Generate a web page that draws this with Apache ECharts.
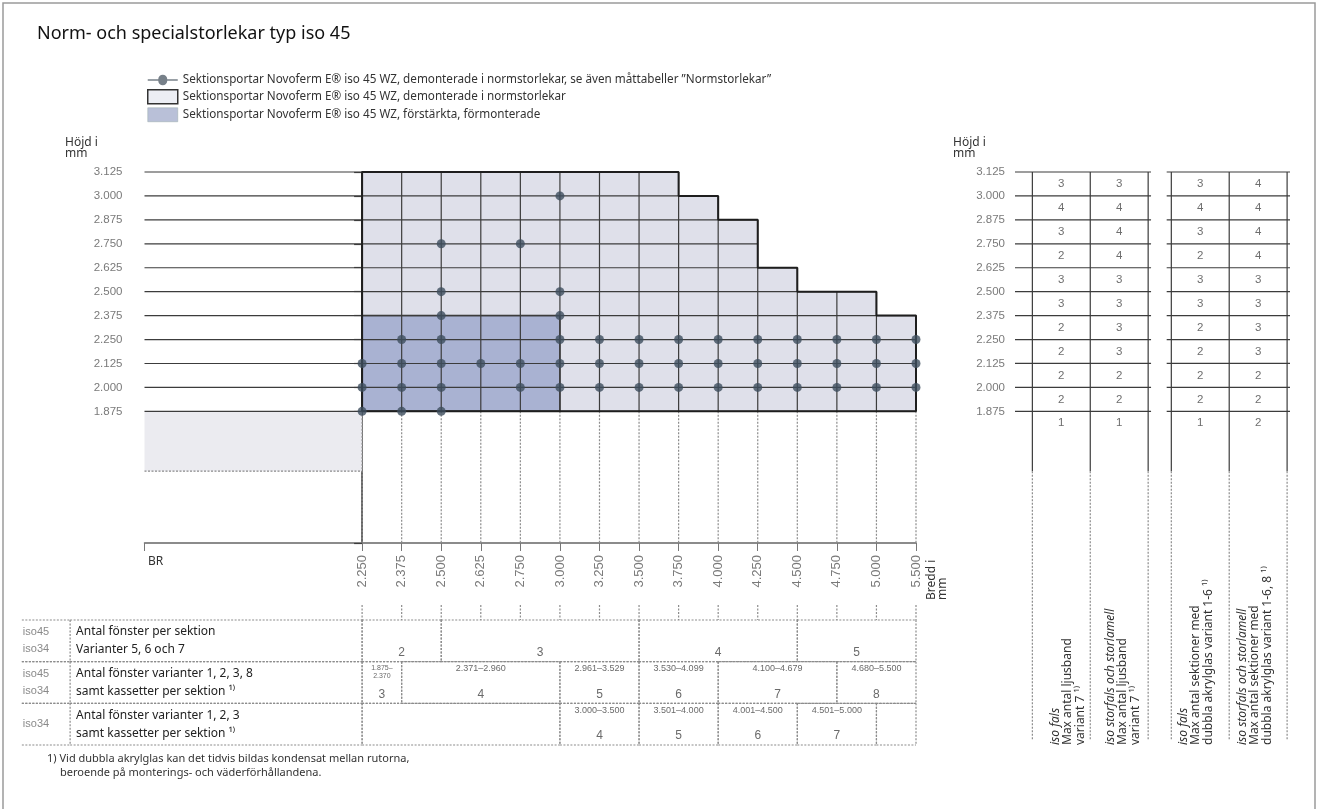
<!DOCTYPE html>
<html>
<head>
<meta charset="utf-8">
<script src="https://cdn.jsdelivr.net/npm/echarts@6/dist/echarts.min.js"></script>
<style>
  html, body { margin: 0; padding: 0; background: #fff; }
  #chart { width: 1318px; height: 809px; }
</style>
</head>
<body>
<div id="chart"></div>
<script>
// --- data ---
const widths = ['2.250', '2.375', '2.500', '2.625', '2.750', '3.000', '3.250', '3.500',
  '3.750', '4.000', '4.250', '4.500', '4.750', '5.000', '5.500'];
const heights = [1.875, 2.000, 2.125, 2.250, 2.375, 2.500, 2.625, 2.750, 2.875, 3.000, 3.125];
// max height for each width step (widths[i] .. widths[i+1])
const columnTops = [3.125, 3.125, 3.125, 3.125, 3.125, 3.125, 3.125, 3.125,
  3.000, 2.875, 2.625, 2.500, 2.500, 2.375];
// förstärkta, förmonterade block
const reinforcedWidth = [0, 5];
const reinforcedHeight = [1.875, 2.375];
// normstorlekar, heights per width
const normSizes = [
  [2.125, 2.000, 1.875],
  [2.250, 2.125, 2.000, 1.875],
  [2.750, 2.500, 2.375, 2.250, 2.125, 2.000, 1.875],
  [2.125],
  [2.750, 2.125, 2.000],
  [3.000, 2.500, 2.375, 2.250, 2.125, 2.000],
  [2.250, 2.125, 2.000],
  [2.250, 2.125, 2.000],
  [2.250, 2.125, 2.000],
  [2.250, 2.125, 2.000],
  [2.250, 2.125, 2.000],
  [2.250, 2.125, 2.000],
  [2.250, 2.125, 2.000],
  [2.250, 2.125, 2.000],
  [2.250, 2.125, 2.000]
];

// right tables, rows from 3.125 down to 1.875
const ljusbandFals = [3, 4, 3, 2, 3, 3, 2, 2, 2, 2, 1];
const ljusbandStorfals = [3, 4, 4, 4, 3, 3, 3, 3, 2, 2, 1];
const akrylFals = [3, 4, 3, 2, 3, 3, 2, 2, 2, 2, 1];
const akrylStorfals = [4, 4, 4, 4, 3, 3, 3, 3, 2, 2, 2];

// bottom table (bounds are width indexes)
const rowTags = ['iso45\niso34', 'iso45\niso34', 'iso34'];
const rowTitles = [
  'Antal fönster per sektion\nVarianter 5, 6 och 7',
  'Antal fönster varianter 1, 2, 3, 8\nsamt kassetter per sektion ¹⁾',
  'Antal fönster varianter 1, 2, 3\nsamt kassetter per sektion ¹⁾'
];
const row1Bounds = [0, 2, 7, 11, 14];
const row1Counts = ['2', '3', '4', '5'];
const row2Bounds = [0, 1, 5, 7, 9, 12, 14];
const row2Ranges = ['1.875–\n2.370', '2.371–2.960', '2.961–3.529', '3.530–4.099', '4.100–4.679', '4.680–5.500'];
const row2Counts = ['3', '4', '5', '6', '7', '8'];
const row3Bounds = [0, 5, 7, 9, 11, 13, 14];
const row3Ranges = ['', '3.000–3.500', '3.501–4.000', '4.001–4.500', '4.501–5.000', ''];
const row3Counts = ['', '4', '5', '6', '7', ''];

// captions under the right tables
const captionTypes = ['iso fals', 'iso storfals och storlamell', 'iso fals', 'iso storfals och storlamell'];
const captionLines = [
  ['Max antal ljusband', 'variant 7 ¹⁾'],
  ['Max antal ljusband', 'variant 7 ¹⁾'],
  ['Max antal sektioner med', 'dubbla akrylglas variant 1-6 ¹⁾'],
  ['Max antal sektioner med', 'dubbla akrylglas variant 1-6, 8 ¹⁾']
];

const legendNames = [
  'Sektionsportar Novoferm E® iso 45 WZ, demonterade i normstorlekar, se även måttabeller ”Normstorlekar”',
  'Sektionsportar Novoferm E® iso 45 WZ, demonterade i normstorlekar',
  'Sektionsportar Novoferm E® iso 45 WZ, förstärkta, förmonterade'
];

// --- layout / style ---
const FONT = '"Noto Sans", "DejaVu Sans", sans-serif';
const NUM_FONT = '"Liberation Sans", sans-serif';
const LIGHT = '#dfe0ea';
const DARK = '#a9b2d2';
const Y_MIN = 1.1875;
const BR_LINE = 1.5625;
const TAG_X = [-8.6, -7.38];
const tableLineX = [0, 1, 2, 2.4, 3.4, 4.4];
const tableColX = [0.5, 1.5, 2.9, 3.9];
const captionX = [1049, 1104, 1177, 1236];

const chart = echarts.init(document.getElementById('chart'));

const bottom = heights[0];
const topAt = i => Math.max(columnTops[i - 1] || 0, columnTops[i] || 0);
const rightEdge = h => {
  let r = 0;
  columnTops.forEach((t, i) => { if (t >= h) r = i + 1; });
  return r;
};

// outline of the light region
const outline = [[0, bottom], [0, columnTops[0]]];
columnTops.forEach((t, i) => { outline.push([i, t]); outline.push([i + 1, t]); });
outline.push([columnTops.length, bottom]);
outline.push([0, bottom]);

const dots = [];
normSizes.forEach((hs, i) => hs.forEach(h => dots.push([i, h])));

// bottom table cells
const cells = [];
rowTags.forEach((tag, r) => {
  cells.push({ kind: 'tag', x0: TAG_X[0], x1: TAG_X[1], row: r, text: tag });
  cells.push({ kind: 'title', x0: TAG_X[1], x1: 0, row: r, text: rowTitles[r] });
});
row1Counts.forEach((c, k) => cells.push({ kind: 'count', x0: row1Bounds[k], x1: row1Bounds[k + 1], row: 0, text: '', count: c }));
row2Counts.forEach((c, k) => cells.push({ kind: 'count', x0: row2Bounds[k], x1: row2Bounds[k + 1], row: 1, text: row2Ranges[k], count: c }));
row3Counts.forEach((c, k) => cells.push({ kind: 'count', x0: row3Bounds[k], x1: row3Bounds[k + 1], row: 2, text: row3Ranges[k], count: c }));

// right table numbers
const tableNums = [];
[ljusbandFals, ljusbandStorfals, akrylFals, akrylStorfals].forEach((col, c) => {
  col.forEach((v, k) => tableNums.push([tableColX[c], heights[heights.length - 1 - k] - 0.0625, v]));
});

const lineDark = { stroke: '#3c3c3c', lineWidth: 1.2 };
const lineDash = { stroke: '#8c8c8c', lineWidth: 1.2, lineDash: [2, 1.5] };

const legendPath = 'path://M0,6.3H10.5A4.5,4.5,0,0,1,19.5,6.3H30V7.7H19.5A4.5,4.5,0,0,1,10.5,7.7H0Z';

const captionRich = {
  i: { fontStyle: 'italic', fontFamily: FONT, fontSize: 12, lineHeight: 12.5, fill: '#333' },
  n: { fontFamily: FONT, fontSize: 12, lineHeight: 12.5, fill: '#333' }
};
const captions = captionTypes.map((t, k) => ({
  type: 'text', x: captionX[k], y: 745, rotation: Math.PI / 2, silent: true,
  style: {
    text: '{i|' + t + '}\n' + captionLines[k].map(s => '{n|' + s + '}').join('\n'),
    align: 'left', verticalAlign: 'top', rich: captionRich
  }
}));

const option = {
  animation: false,
  title: {
    text: 'Norm- och specialstorlekar typ iso 45',
    left: 32, top: 20,
    textStyle: { fontFamily: FONT, fontSize: 18, fontWeight: 'normal', color: '#111' }
  },
  legend: {
    orient: 'vertical', left: 142, top: 69,
    itemWidth: 30, itemHeight: 14, itemGap: 3,
    selectedMode: false,
    textStyle: { fontFamily: FONT, fontSize: 11.7, color: '#333' },
    data: [
      { name: legendNames[0], icon: legendPath, itemStyle: { color: '#55606c' } },
      { name: legendNames[1], icon: 'rect', itemStyle: { color: '#eceef4', borderColor: '#333', borderWidth: 1.5 } },
      { name: legendNames[2], icon: 'rect', itemStyle: { color: '#b9c0d8', borderColor: '#9aa', borderWidth: 0.5 } }
    ]
  },
  grid: [
    { left: 144.5, right: 402, top: 172, bottom: 266 },
    { left: 144.5, right: 402, top: 620, bottom: 64 },
    { left: 1015, right: 28, top: 172, bottom: 62.6 }
  ],
  xAxis: [
    {
      type: 'value', gridIndex: 0, min: -5.5, max: 14,
      axisLine: { show: true, lineStyle: { color: '#666', width: 1.5 } },
      axisTick: { show: true, length: 8, customValues: [-5.5].concat(widths.map((w, i) => i)), lineStyle: { color: '#777' } },
      axisLabel: {
        customValues: widths.map((w, i) => i), formatter: v => widths[Math.round(v)] || '',
        rotate: 90, margin: 12, fontSize: 13, fontFamily: NUM_FONT, color: '#7a7a7a'
      },
      splitLine: { show: false }
    },
    { type: 'value', gridIndex: 1, min: -5.5, max: 14, show: false },
    { type: 'value', gridIndex: 2, min: -0.3, max: 4.45, show: false }
  ],
  yAxis: [
    {
      type: 'value', gridIndex: 0, min: Y_MIN, max: 3.125,
      axisLine: { show: true, lineStyle: { color: '#333', width: 1.5 } },
      axisTick: { show: true, length: 8, customValues: heights.concat([Y_MIN]), lineStyle: { color: '#3c3c3c', width: 1.2 } },
      axisLabel: {
        customValues: heights, formatter: v => v.toFixed(3),
        margin: 22, fontSize: 11.5, fontFamily: NUM_FONT, color: '#7a7a7a'
      },
      splitLine: { show: false }
    },
    { type: 'value', gridIndex: 1, min: 0, max: 3, inverse: true, show: false },
    {
      type: 'value', gridIndex: 2, min: 0.125, max: 3.125,
      axisLine: { show: false }, axisTick: { show: false },
      axisLabel: {
        customValues: heights, formatter: v => v.toFixed(3),
        margin: 10, fontSize: 11.5, fontFamily: NUM_FONT, color: '#7a7a7a'
      },
      splitLine: { show: false }
    }
  ],
  series: [
    // light region
    {
      type: 'custom', name: legendNames[1], xAxisIndex: 0, yAxisIndex: 0, z: 1,
      itemStyle: { color: LIGHT },
      data: columnTops.map((t, i) => [i, t]),
      renderItem: (params, api) => {
        const a = api.coord([api.value(0), bottom]);
        const b = api.coord([api.value(0) + 1, api.value(1)]);
        return { type: 'rect', shape: { x: a[0], y: b[1], width: b[0] - a[0], height: a[1] - b[1] }, style: { fill: LIGHT } };
      }
    },
    // reinforced region
    {
      type: 'custom', name: legendNames[2], xAxisIndex: 0, yAxisIndex: 0, z: 2,
      itemStyle: { color: DARK },
      data: [[reinforcedWidth[0], reinforcedWidth[1], reinforcedHeight[0], reinforcedHeight[1]]],
      renderItem: (params, api) => {
        const a = api.coord([api.value(0), api.value(2)]);
        const b = api.coord([api.value(1), api.value(3)]);
        return { type: 'rect', shape: { x: a[0], y: b[1], width: b[0] - a[0], height: a[1] - b[1] },
          style: { fill: DARK, stroke: '#333', lineWidth: 1.5 } };
      }
    },
    // BR hatched block
    {
      type: 'custom', xAxisIndex: 0, yAxisIndex: 0, z: 1, silent: true,
      data: [[-5.5, 0, BR_LINE, bottom]],
      renderItem: (params, api) => {
        const a = api.coord([api.value(0), api.value(2)]);
        const b = api.coord([api.value(1), api.value(3)]);
        return { type: 'group', children: [
          { type: 'rect', shape: { x: a[0], y: b[1], width: b[0] - a[0], height: a[1] - b[1] }, style: { fill: '#ebebf0' } },
          { type: 'line', shape: { x1: a[0], y1: a[1], x2: b[0], y2: a[1] }, style: lineDash }
        ] };
      }
    },
    // vertical width lines
    {
      type: 'custom', xAxisIndex: 0, yAxisIndex: 0, z: 3, silent: true,
      data: widths.map((w, i) => [i, topAt(i)]),
      renderItem: (params, api) => {
        const x = api.value(0);
        const pTop = api.coord([x, api.value(1)]);
        const pMid = api.coord([x, bottom]);
        const pBot = api.coord([x, Y_MIN]);
        return { type: 'group', children: [
          { type: 'line', shape: { x1: pTop[0], y1: pTop[1], x2: pMid[0], y2: pMid[1] }, style: lineDark },
          { type: 'line', shape: { x1: pMid[0], y1: pMid[1], x2: pBot[0], y2: pBot[1] }, style: lineDash }
        ] };
      }
    },
    // horizontal height lines
    {
      type: 'custom', xAxisIndex: 0, yAxisIndex: 0, z: 3, silent: true,
      data: heights.map(h => [h, rightEdge(h)]),
      renderItem: (params, api) => {
        const a = api.coord([-5.5, api.value(0)]);
        const b = api.coord([api.value(1), api.value(0)]);
        return { type: 'line', shape: { x1: a[0], y1: a[1], x2: b[0], y2: b[1] }, style: lineDark };
      }
    },
    // outline
    {
      type: 'line', xAxisIndex: 0, yAxisIndex: 0, z: 4, silent: true,
      data: outline, symbol: 'none',
      lineStyle: { color: '#1e1e1e', width: 2 }
    },
    // normstorlekar
    {
      type: 'scatter', name: legendNames[0], xAxisIndex: 0, yAxisIndex: 0, z: 5,
      data: dots, symbolSize: 9,
      itemStyle: { color: '#3d4e5e' }
    },
    // bottom table
    {
      type: 'custom', xAxisIndex: 1, yAxisIndex: 1, z: 3, silent: true, clip: false,
      data: cells.map((c, i) => [i]),
      renderItem: (params, api) => {
        const c = cells[params.dataIndex];
        const a = api.coord([c.x0, c.row]);
        const b = api.coord([c.x1, c.row + 1]);
        const cx = (a[0] + b[0]) / 2;
        const ch = [
          { type: 'line', shape: { x1: a[0], y1: a[1], x2: b[0], y2: a[1] }, style: lineDash },
          { type: 'line', shape: { x1: a[0], y1: b[1], x2: b[0], y2: b[1] }, style: lineDash }
        ];
        if (c.kind !== 'tag') {
          ch.push({ type: 'line', shape: { x1: a[0], y1: a[1], x2: a[0], y2: b[1] }, style: lineDash });
          ch.push({ type: 'line', shape: { x1: b[0], y1: a[1], x2: b[0], y2: b[1] }, style: lineDash });
        }
        if (c.kind === 'tag') {
          ch.push({ type: 'text', style: { text: c.text, x: a[0] + 1, y: (a[1] + b[1]) / 2, align: 'left', verticalAlign: 'middle',
            font: '11px ' + NUM_FONT, lineHeight: 17, fill: '#8a8a8a' } });
        } else if (c.kind === 'title') {
          ch.push({ type: 'text', style: { text: c.text, x: a[0] + 6, y: (a[1] + b[1]) / 2, align: 'left', verticalAlign: 'middle',
            font: '12px ' + FONT, lineHeight: 18, fill: '#222' } });
        } else {
          if (c.text) {
            const small = c.text.indexOf('\n') >= 0;
            ch.push({ type: 'text', style: { text: c.text, x: cx, y: a[1] + 2, align: 'center', verticalAlign: 'top',
              font: (small ? '7px ' : '9px ') + NUM_FONT, lineHeight: small ? 8 : 10, fill: '#6a6a6a' } });
          }
          if (c.count) {
            ch.push({ type: 'text', style: { text: c.count, x: cx, y: b[1] - 9, align: 'center', verticalAlign: 'middle',
              font: '12px ' + NUM_FONT, fill: '#6a6a6a' } });
          }
        }
        return { type: 'group', children: ch };
      }
    },
    // ticks above the bottom table
    {
      type: 'custom', xAxisIndex: 1, yAxisIndex: 1, z: 3, silent: true, clip: false,
      data: widths.map((w, i) => [i]),
      renderItem: (params, api) => {
        const a = api.coord([api.value(0), -0.36]);
        const b = api.coord([api.value(0), 0]);
        return { type: 'line', shape: { x1: a[0], y1: a[1], x2: b[0], y2: b[1] }, style: lineDash };
      }
    },
    // right tables: horizontal lines
    {
      type: 'custom', xAxisIndex: 2, yAxisIndex: 2, z: 3, silent: true, clip: false,
      data: heights.map(h => [h]),
      renderItem: (params, api) => {
        const h = api.value(0);
        const a1 = api.coord([-0.3, h]), b1 = api.coord([2.05, h]);
        const a2 = api.coord([2.32, h]), b2 = api.coord([4.45, h]);
        return { type: 'group', children: [
          { type: 'line', shape: { x1: a1[0], y1: a1[1], x2: b1[0], y2: b1[1] }, style: lineDark },
          { type: 'line', shape: { x1: a2[0], y1: a2[1], x2: b2[0], y2: b2[1] }, style: lineDark }
        ] };
      }
    },
    // right tables: vertical lines
    {
      type: 'custom', xAxisIndex: 2, yAxisIndex: 2, z: 3, silent: true, clip: false,
      data: tableLineX.map(x => [x]),
      renderItem: (params, api) => {
        const x = api.value(0);
        const a = api.coord([x, 3.125]), m = api.coord([x, BR_LINE]), b = api.coord([x, 0.16]);
        return { type: 'group', children: [
          { type: 'line', shape: { x1: a[0], y1: a[1], x2: m[0], y2: m[1] }, style: lineDark },
          { type: 'line', shape: { x1: m[0], y1: m[1], x2: b[0], y2: b[1] }, style: lineDash }
        ] };
      }
    },
    // right tables: numbers
    {
      type: 'custom', xAxisIndex: 2, yAxisIndex: 2, z: 4, silent: true,
      data: tableNums,
      renderItem: (params, api) => {
        const p = api.coord([api.value(0), api.value(1)]);
        return { type: 'text', style: { text: String(api.value(2)), x: p[0], y: p[1], align: 'center', verticalAlign: 'middle',
          font: '11.5px ' + NUM_FONT, fill: '#6e6e6e' } };
      }
    }
  ],
  graphic: [
    { type: 'rect', shape: { x: 3, y: 3, width: 1312, height: 840 }, style: { fill: 'none', stroke: '#9a9a9a', lineWidth: 1.5 }, silent: true },
    { type: 'text', left: 65, top: 137, style: { text: 'Höjd i\nmm', font: '12px ' + FONT, lineHeight: 11, fill: '#333' } },
    { type: 'text', left: 953, top: 137, style: { text: 'Höjd i\nmm', font: '12px ' + FONT, lineHeight: 11, fill: '#333' } },
    { type: 'text', left: 148, top: 556, style: { text: 'BR', font: '12px ' + FONT, fill: '#333' } },
    { type: 'text', x: 926, y: 600, rotation: Math.PI / 2,
      style: { text: 'Bredd i\nmm', font: '12px ' + FONT, lineHeight: 11, fill: '#333', align: 'left', verticalAlign: 'top' } },
    ...captions,
    { type: 'text', left: 47, top: 753, style: { text: '1) Vid dubbla akrylglas kan det tidvis bildas kondensat mellan rutorna,', font: '11px ' + FONT, fill: '#333' } },
    { type: 'text', left: 60, top: 767, style: { text: 'beroende på monterings- och väderförhållandena.', font: '11px ' + FONT, fill: '#333' } }
  ]
};

chart.setOption(option);
</script>
</body>
</html>
